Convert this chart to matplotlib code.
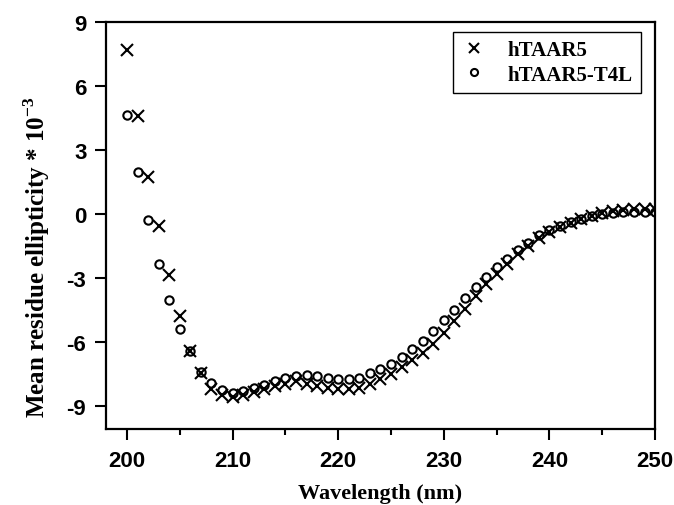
import matplotlib
matplotlib.use("Agg")
import matplotlib.pyplot as plt
from matplotlib.ticker import MultipleLocator

wavelength = list(range(200, 251))
htaar5 = [7.7, 4.6, 1.75, -0.58, -2.86, -4.77, -6.45, -7.45, -8.2, -8.5,
          -8.6, -8.5, -8.35, -8.2, -8.08, -7.97, -7.85, -7.97, -8.08, -8.17,
          -8.23, -8.23, -8.17, -7.97, -7.77, -7.5, -7.19, -6.88, -6.55, -6.1,
          -5.6, -5.05, -4.45, -3.85, -3.3, -2.8, -2.35, -1.9, -1.5, -1.15,
          -0.85, -0.6, -0.42, -0.25, -0.1, 0.02, 0.12, 0.2, 0.22, 0.22, 0.22]
htaar5_t4l = [4.65, 1.98, -0.31, -2.34, -4.06, -5.42, -6.45, -7.42, -7.94, -8.28,
              -8.4, -8.33, -8.17, -8.05, -7.86, -7.7, -7.61, -7.55, -7.61, -7.7,
              -7.73, -7.73, -7.7, -7.45, -7.3, -7.03, -6.72, -6.36, -5.98, -5.5,
              -5.0, -4.5, -3.95, -3.45, -2.95, -2.5, -2.1, -1.7, -1.35, -1.0,
              -0.75, -0.55, -0.4, -0.25, -0.12, -0.02, 0.05, 0.08, 0.08, 0.08, 0.08]
x_ticks = [200, 210, 220, 230, 240, 250]
y_ticks = [-9, -6, -3, 0, 3, 6, 9]

plt.rcParams['mathtext.fontset'] = 'custom'
plt.rcParams['mathtext.rm'] = 'Liberation Serif:bold'
plt.rcParams['mathtext.bf'] = 'Liberation Serif:bold'
plt.rcParams['axes.unicode_minus'] = False

fig = plt.figure(figsize=(6.74, 5.06), dpi=100)
ax = fig.add_axes([0.157, 0.15, 0.815, 0.8045])

ax.plot(wavelength, htaar5, linestyle='none', marker='x', markersize=8,
        markeredgewidth=1.5, color='black', label='hTAAR5')
ax.plot(wavelength, htaar5_t4l, linestyle='none', marker='o', markersize=6,
        markerfacecolor='none', markeredgewidth=1.5, color='black',
        label='hTAAR5-T4L')

ax.set_xlim(198, 250)
ax.set_ylim(-10.1, 9)
ax.set_xticks(x_ticks)
ax.set_yticks(y_ticks)
ax.xaxis.set_minor_locator(MultipleLocator(5))

for s in ax.spines.values():
    s.set_linewidth(1.6)
ax.tick_params(which='major', direction='out', length=8, width=1.5)
ax.tick_params(which='minor', direction='out', length=4, width=1.5)
ax.tick_params(axis='x', pad=7)
ax.tick_params(axis='y', pad=6)
for lab in ax.get_xticklabels() + ax.get_yticklabels():
    lab.set_fontfamily('Liberation Sans')
    lab.set_fontweight('bold')
    lab.set_fontsize(16)

ax.set_xlabel('Wavelength (nm)', fontfamily='Liberation Serif',
              fontweight='bold', fontsize=16, labelpad=9)
ax.set_ylabel('Mean residue ellipticity * 10$^{-3}$', fontfamily='Liberation Serif',
              fontweight='bold', fontsize=18)
ax.yaxis.set_label_coords(-0.098, 0.425)

leg = ax.legend(loc='upper right', bbox_to_anchor=(0.9745, 0.9754), borderaxespad=0,
                prop={'family': 'Liberation Serif', 'weight': 'bold', 'size': 15},
                fancybox=False, edgecolor='black', framealpha=1,
                handlelength=1.2, handletextpad=1.0, borderpad=0.4,
                labelspacing=0.2, markerscale=0.85)
leg.get_frame().set_linewidth(1.0)

fig.savefig('out.png', dpi=100)
